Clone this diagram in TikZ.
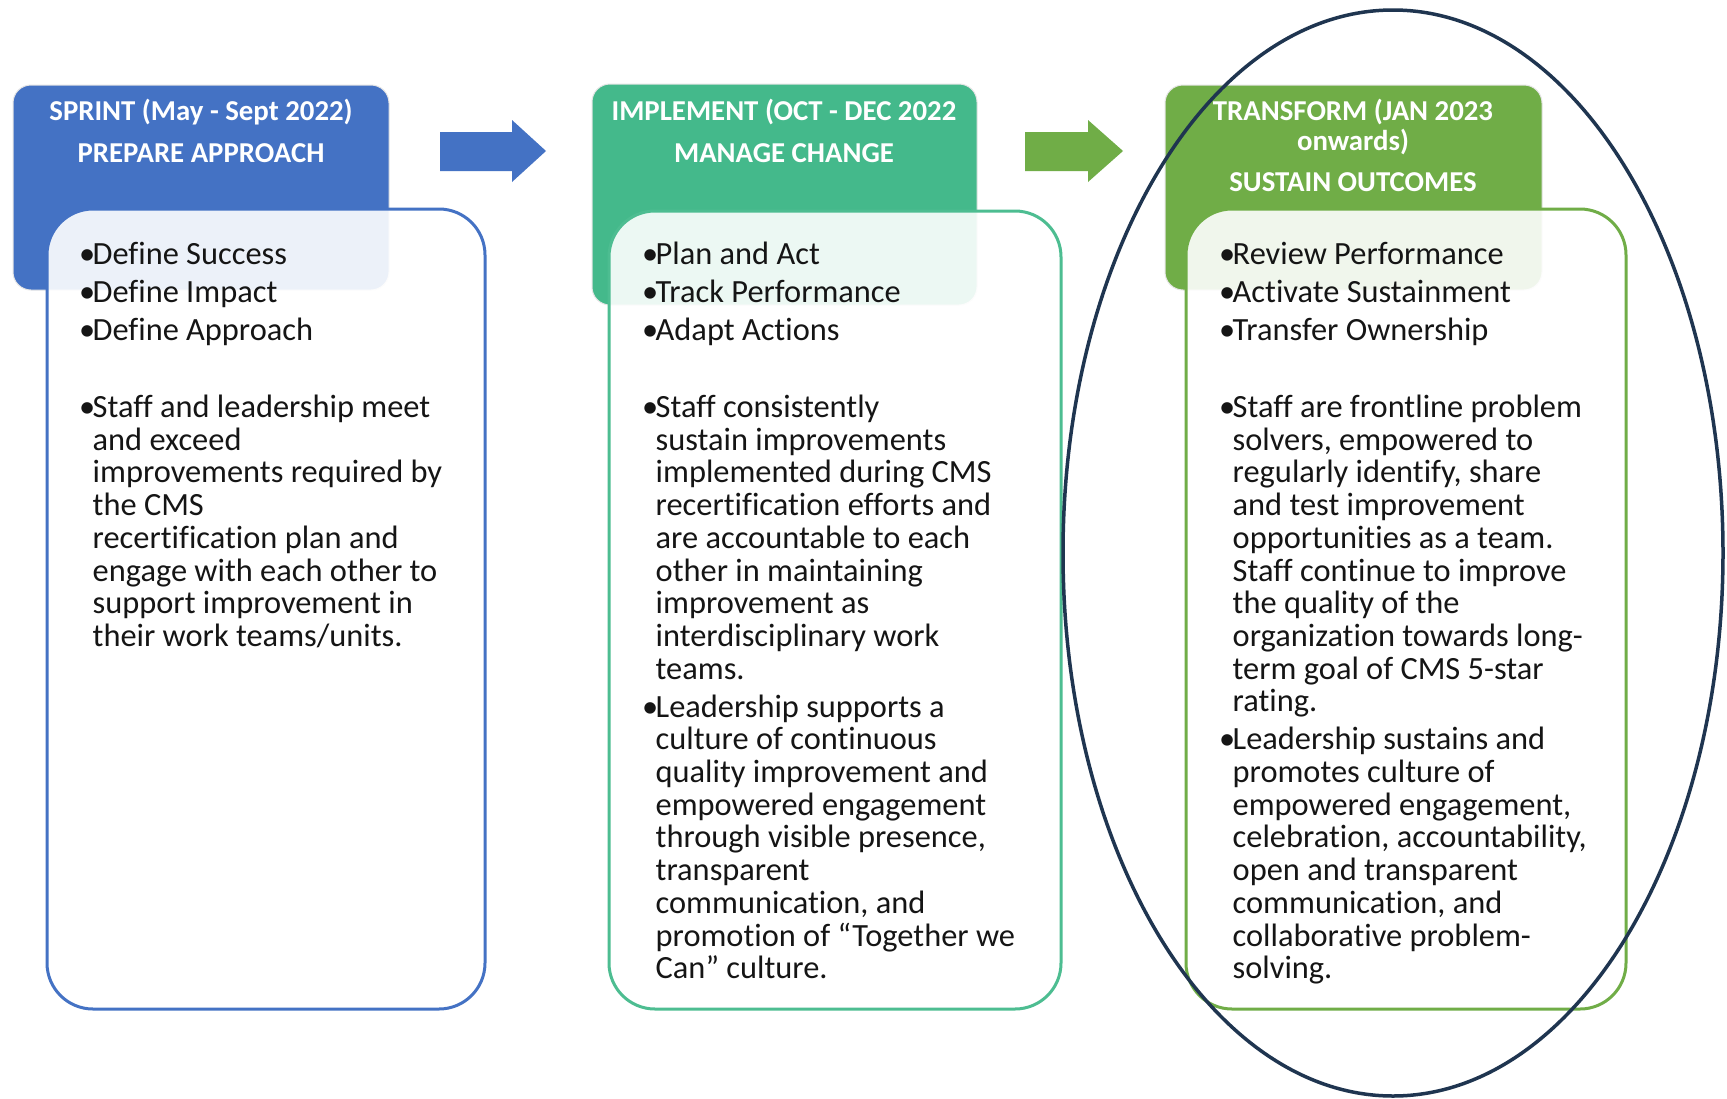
\documentclass[tikz,border=0pt]{standalone}
\usepackage{fontspec}
\setmainfont[Ligatures=NoCommon]{Carlito}
\definecolor{cblue}{HTML}{4472C4}
\definecolor{cteal}{HTML}{44B98B}
\definecolor{cgreen}{HTML}{70AD47}
\definecolor{cnavy}{HTML}{1F3550}
\definecolor{ctext}{HTML}{151515}
\newlength{\bulw}
\setlength{\bulw}{13.5pt}
\newcommand{\bul}{\makebox[\bulw][l]{•}}
\newcommand{\ind}{\hspace*{\bulw}}
\tikzset{
  hdr/.style={rounded corners=18pt, line width=1pt, draw=black!10},
  bodybox/.style={rounded corners=46pt, line width=3pt, fill=white, fill opacity=0.9},
  hdrtext/.style={anchor=base, inner sep=0pt, text=white,
    font=\fontsize{28.8}{30}\selectfont\bfseries},
  bodytext/.style={anchor=base west, inner sep=0pt, text=ctext,
    font=\fontsize{32.4}{32.7}\selectfont}
}
\begin{document}
\begin{tikzpicture}[x=1pt,y=-1pt]
\useasboundingbox (0,0) rectangle (1727,1098);
\fill[white] (0,0) rectangle (1727,1098);
% headers
\fill[hdr, fill=cblue] (13,85) rectangle (389,290);
\fill[hdr, fill=cteal] (592,84) rectangle (977,305);
\fill[hdr, fill=cgreen] (1165,85) rectangle (1542,290);
% header texts
\node[hdrtext] (h1) at (201,120) {\parbox[t]{370pt}{\centering SPRINT (May - Sept 2022)\\[12pt]PREPARE APPROACH}};
\node[hdrtext] (h2) at (784,120) {\parbox[t]{380pt}{\centering IMPLEMENT (OCT - DEC 2022\\[12pt]MANAGE CHANGE}};
\node[hdrtext] (h3) at (1353,120) {\parbox[t]{370pt}{\centering TRANSFORM (JAN 2023\\onwards)\\[11pt]SUSTAIN OUTCOMES}};
% bodies
\draw[bodybox, draw=cblue] (47,209) rectangle (485,1009);
\draw[bodybox, draw=cteal!95!white] (609,211) rectangle (1061,1009);
\draw[bodybox, draw=cgreen] (1186,209) rectangle (1626,1009);
% body texts
\node[bodytext] (t1) at (79,264.5) {\parbox[t]{420pt}{\raggedright
\bul Define Success\\[5.3pt]
\bul Define Impact\\[5.3pt]
\bul Define Approach\\[44.3pt]
\bul Staff and leadership meet\\
\ind and exceed\\
\ind improvements required by\\
\ind the CMS\\
\ind recertification plan and\\
\ind engage with each other to\\
\ind support improvement in\\
\ind their work teams/units.}};
\node[bodytext] (t2) at (642,264.5) {\parbox[t]{420pt}{\raggedright
\bul Plan and Act\\[5.3pt]
\bul Track Performance\\[5.3pt]
\bul Adapt Actions\\[44.3pt]
\bul Staff consistently\\
\ind sustain improvements\\
\ind implemented during CMS\\
\ind recertification efforts and\\
\ind are accountable to each\\
\ind other in maintaining\\
\ind improvement as\\
\ind interdisciplinary work\\
\ind teams.\\[5.3pt]
\bul Leadership supports a\\
\ind culture of continuous\\
\ind quality improvement and\\
\ind empowered engagement\\
\ind through visible presence,\\
\ind transparent\\
\ind communication, and\\
\ind promotion of “Together we\\
\ind Can” culture.}};
\node[bodytext] (t3) at (1219,264.5) {\parbox[t]{420pt}{\raggedright
\bul Review Performance\\[5.3pt]
\bul Activate Sustainment\\[5.3pt]
\bul Transfer Ownership\\[44.3pt]
\bul Staff are frontline problem\\
\ind solvers, empowered to\\
\ind regularly identify, share\\
\ind and test improvement\\
\ind opportunities as a team.\\
\ind Staff continue to improve\\
\ind the quality of the\\
\ind organization towards long-\\
\ind term goal of CMS 5-star\\
\ind rating.\\[5.3pt]
\bul Leadership sustains and\\
\ind promotes culture of\\
\ind empowered engagement,\\
\ind celebration, accountability,\\
\ind open and transparent\\
\ind communication, and\\
\ind collaborative problem-\\
\ind solving.}};
% arrows
\fill[cblue] (440,132) -- (512,132) -- (512,120) -- (546,151) -- (512,182) -- (512,171) -- (440,171) -- cycle;
\fill[cgreen] (1025,132) -- (1088,132) -- (1088,120) -- (1123,151) -- (1088,182) -- (1088,171) -- (1025,171) -- cycle;
% ellipse
\draw[cnavy, line width=3.5pt] (1393,553) ellipse [x radius=330, y radius=543];
\end{tikzpicture}
\end{document}
